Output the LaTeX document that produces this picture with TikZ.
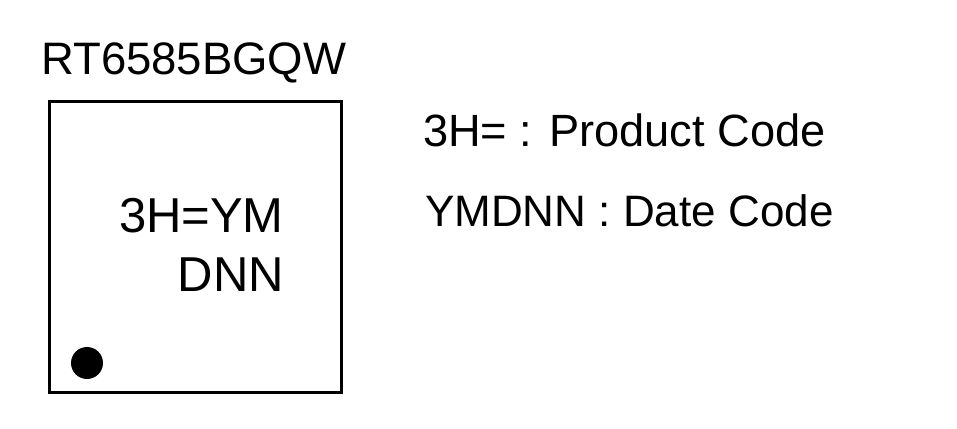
\documentclass[tikz,border=0pt]{standalone}
\usepackage{fontspec}
\setmainfont{Liberation Sans}
\begin{document}
\begin{tikzpicture}[x=1pt,y=1pt,
  txt/.style={inner sep=0pt,font=\fontsize{44}{44}\selectfont},
  chiptxt/.style={inner sep=0pt,font=\fontsize{49}{49}\selectfont,anchor=base east},
  chip/.style={draw=black,line width=3pt}]
\useasboundingbox (0,0) rectangle (957,428);
\node[txt,anchor=base west,font=\fontsize{45.5}{45.5}\selectfont] (title) at (41,353) {RT6585BGQW};
\draw[chip] (49,36) rectangle (341,326);
\node[inner sep=0pt,fill=black,circle,minimum size=32pt] (dot) at (87,65) {};
\node[chiptxt] (l1) at (284,195) {3H=YM};
\node[chiptxt] (l2) at (284,136) {DNN};
\node[txt,anchor=base west,font=\fontsize{45.2}{45.2}\selectfont] (p) at (423,281) {3H= : Product Code};
\node[txt,anchor=base west] (d) at (425,201) {YMDNN : Date Code};
\end{tikzpicture}
\end{document}
